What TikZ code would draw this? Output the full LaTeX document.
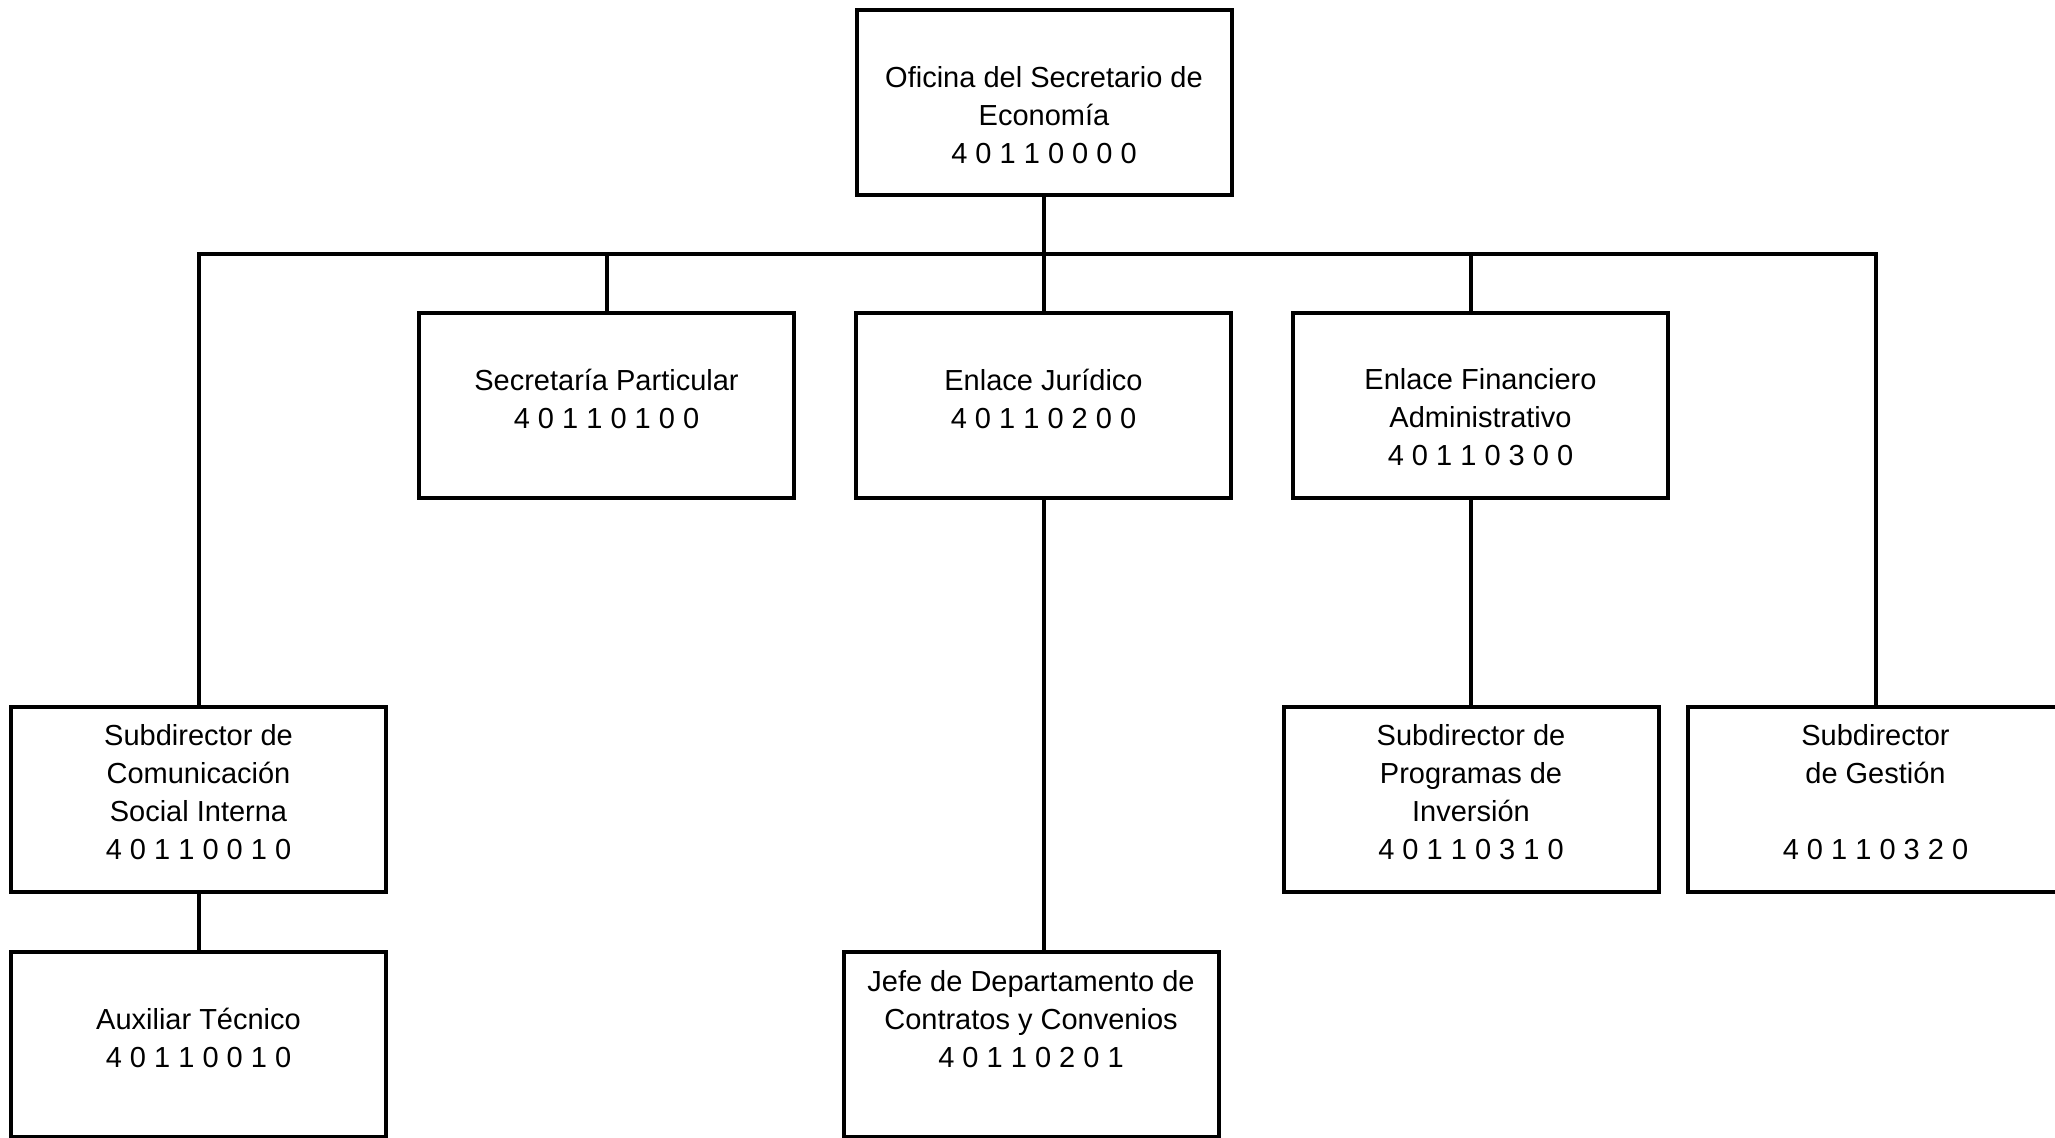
\documentclass[tikz,border=0pt]{standalone}
\usepackage{fontspec}
\setmainfont{Liberation Sans}
\usetikzlibrary{positioning}

\begin{document}
\begin{tikzpicture}[x=0.5pt,y=-0.5pt,line width=2pt]

        \useasboundingbox (0,0) rectangle (2055,1137);

        \begin{scope}[every node/.style={rectangle,draw,line width=2pt,minimum width=187.5pt,minimum height=92.5pt,inner sep=0pt}]
          \node (top)  at (1044,102.5)  {};
          \node (sec)  at (606.5,405)   {};
          \node (jur)  at (1043.5,405)  {};
          \node (fin)  at (1480.5,405)  {};
          \node (com)  at (198.5,799)   {};
          \node (prog) at (1471,799)    {};
          \node (ges)  at (1875.5,799)  {};
          \node (aux)  at (198.5,1044.5) {};
          \node (jefe) at (1031,1044.5) {};
        \end{scope}

        \coordinate (bus) at (top.south |- 0,254);

        \begin{scope}[every node/.style={align=center,inner sep=0pt,font=\fontsize{14.5}{19}\selectfont}]
          \node[below=28.2pt of top.north]  (top-t)  {Oficina del Secretario de\\Economía\\4 0 1 1 0 0 0 0};
          \node[below=28.2pt of sec.north]  (sec-t)  {Secretaría Particular\\4 0 1 1 0 1 0 0};
          \node[below=28.2pt of jur.north]  (jur-t)  {Enlace Jurídico\\4 0 1 1 0 2 0 0};
          \node[below=28.2pt of fin.north]  (fin-t)  {Enlace Financiero\\Administrativo\\4 0 1 1 0 3 0 0};
          \node[below=9.2pt of com.north]   (com-t)  {Subdirector de\\Comunicación\\Social Interna\\4 0 1 1 0 0 1 0};
          \node[below=9.2pt of prog.north]  (prog-t) {Subdirector de\\Programas de\\Inversión\\4 0 1 1 0 3 1 0};
          \node[below=9.2pt of ges.north]   (ges-t)  {Subdirector\\de Gestión\\[19pt]4 0 1 1 0 3 2 0};
          \node[below=28.2pt of aux.north]  (aux-t)  {Auxiliar Técnico\\4 0 1 1 0 0 1 0};
          \node[below=9.2pt of jefe.north]  (jefe-t) {Jefe de Departamento de\\Contratos y Convenios\\4 0 1 1 0 2 0 1};
        \end{scope}

        \draw (top.south) -- (bus);
        \draw (com.north) |- (bus) -| (ges.north);
        \draw (sec.north) -- (sec.north |- bus);
        \draw (jur.north) -- (jur.north |- bus);
        \draw (prog.north |- fin.north) -- (prog.north |- bus);
        \draw (prog.north) -- (prog.north |- fin.south);
        \draw (jur.south) -- (jur.south |- jefe.north);
        \draw (com.south) -- (aux.north);

      \end{tikzpicture}
\end{document}
